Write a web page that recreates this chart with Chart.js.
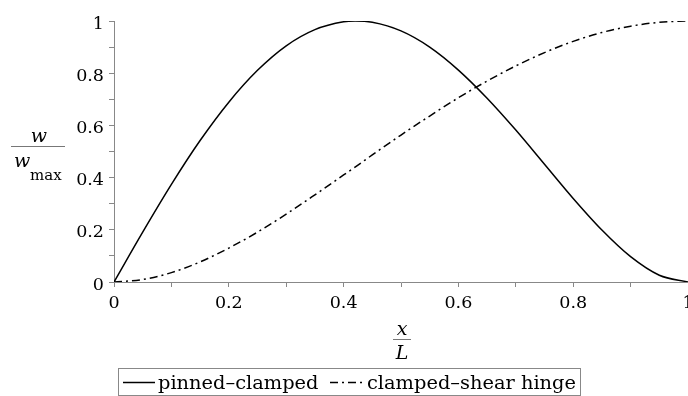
<!DOCTYPE html>
<html><head><meta charset="utf-8">
<script src="https://cdn.jsdelivr.net/npm/chart.js@4"></script>
<style>html,body{margin:0;padding:0;background:#fff;overflow:hidden}</style>
</head><body>
<canvas id="c" width="688" height="396"></canvas>
<script>
// ---- data ----
const xValues = [0, 0.05, 0.10, 0.15, 0.20, 0.25, 0.30, 0.35, 0.40, 0.42, 0.45, 0.50, 0.55, 0.60, 0.65, 0.70, 0.75, 0.80, 0.85, 0.90, 0.95, 1.00];
const pinnedClamped = [0, 0.191, 0.374, 0.542, 0.689, 0.811, 0.905, 0.967, 0.997, 1.000, 0.995, 0.962, 0.900, 0.812, 0.704, 0.582, 0.451, 0.320, 0.199, 0.097, 0.026, 0];
const clampedShearHinge = [0, 0.0095, 0.036, 0.077, 0.130, 0.191, 0.260, 0.334, 0.410, 0.440, 0.487, 0.563, 0.636, 0.706, 0.770, 0.828, 0.879, 0.922, 0.956, 0.980, 0.995, 1.000];
const xTickLabels = ['0', '0.2', '0.4', '0.6', '0.8', '1'];
const yTickLabels = ['0', '0.2', '0.4', '0.6', '0.8', '1'];
const seriesLabels = ['pinned\u2013clamped', 'clamped\u2013shear hinge'];

const SERIF = '"DejaVu Serif", serif';
function labelFor(list, v) {
  const f = list.find(l => Math.abs(parseFloat(l) - v) < 1e-6);
  return f === undefined ? '' : f;
}
function pairs(ys) { return xValues.map((x, i) => ({x: x, y: ys[i]})); }

const annotPlugin = {
  id: 'annot',
  afterDraw(chart) {
    const ctx = chart.ctx;
    ctx.save();
    ctx.fillStyle = '#000';
    ctx.textBaseline = 'alphabetic';
    // y-axis title: w / w_max
    ctx.font = 'italic 19px ' + SERIF;
    ctx.textAlign = 'center';
    ctx.fillText('w', 39, 142);
    ctx.strokeStyle = '#777';
    ctx.lineWidth = 1;
    ctx.beginPath(); ctx.moveTo(11, 146.5); ctx.lineTo(65, 146.5); ctx.stroke();
    ctx.textAlign = 'left';
    ctx.fillText('w', 14, 167);
    ctx.font = '15px ' + SERIF;
    ctx.fillText('max', 30, 180);
    // x-axis title: x / L
    ctx.font = 'italic 19px ' + SERIF;
    ctx.textAlign = 'center';
    ctx.fillText('x', 402, 335);
    ctx.beginPath(); ctx.moveTo(393, 339.5); ctx.lineTo(411, 339.5); ctx.stroke();
    ctx.fillText('L', 402, 359);
    // legend
    const ds = chart.data.datasets;
    ctx.strokeStyle = '#888';
    ctx.lineWidth = 1;
    ctx.strokeRect(118.5, 368.5, 462, 27);
    const items = [
      {x0: 123, x1: 155, tx: 158},
      {x0: 330, x1: 363, tx: 367}
    ];
    ctx.font = '19.4px ' + SERIF;
    ctx.textAlign = 'left';
    items.forEach((it, i) => {
      ctx.save();
      ctx.strokeStyle = ds[i].borderColor;
      ctx.lineWidth = ds[i].borderWidth;
      ctx.setLineDash(ds[i].borderDash || []);
      ctx.beginPath(); ctx.moveTo(it.x0, 382.5); ctx.lineTo(it.x1, 382.5); ctx.stroke();
      ctx.restore();
      ctx.fillStyle = '#000';
      ctx.fillText(ds[i].label, it.tx, 389);
    });
    ctx.restore();
  }
};

new Chart(document.getElementById('c'), {
  type: 'line',
  data: {
    datasets: [
      {label: seriesLabels[0], data: pairs(pinnedClamped), borderColor: '#000', borderWidth: 1.5,
       pointRadius: 0, cubicInterpolationMode: 'monotone', fill: false},
      {label: seriesLabels[1], data: pairs(clampedShearHinge), borderColor: '#000', borderWidth: 1.5,
       borderDash: [8, 4, 2, 4], pointRadius: 0, cubicInterpolationMode: 'monotone', fill: false}
    ]
  },
  options: {
    responsive: false,
    devicePixelRatio: 1,
    animation: false,
    layout: {padding: {top: 21, right: 0, bottom: 0, left: 0}},
    plugins: {legend: {display: false}, tooltip: {enabled: false}},
    scales: {
      x: {
        type: 'linear', min: 0, max: 1,
        ticks: {stepSize: 0.1, autoSkip: false, maxRotation: 0, padding: 6, color: '#000',
          font: {family: SERIF, size: 17.5},
          callback: v => labelFor(xTickLabels, v)},
        grid: {drawOnChartArea: false, drawTicks: true, tickLength: 5, color: '#888'},
        border: {color: '#888', width: 1},
        afterFit: s => { s.height = 114; s.paddingLeft = 0; s.paddingRight = 0; }
      },
      y: {
        type: 'linear', min: 0, max: 1,
        ticks: {stepSize: 0.1, autoSkip: false, padding: 5, color: '#000', labelOffset: 3,
          font: {family: SERIF, size: 17.5},
          callback: v => labelFor(yTickLabels, v)},
        grid: {drawOnChartArea: false, drawTicks: true, tickLength: 5, color: '#888'},
        border: {color: '#888', width: 1},
        afterFit: s => { s.width = 114; s.paddingTop = 0; s.paddingBottom = 0; }
      }
    }
  },
  plugins: [annotPlugin]
});
</script>
</body></html>
